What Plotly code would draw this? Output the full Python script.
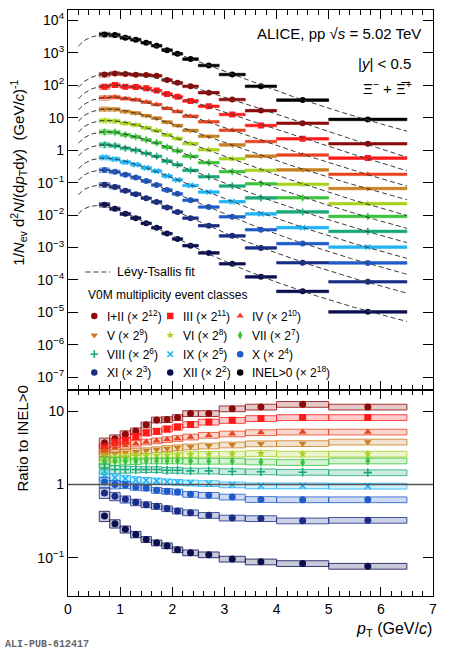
import numpy as np
import plotly.graph_objects as go

# ---------------- data ----------------
pt_lo = [0.6, 0.8, 1.0, 1.2, 1.4, 1.6, 1.8, 2.0, 2.2, 2.5, 2.9, 3.4, 4.0, 5.0]
pt_hi = [0.8, 1.0, 1.2, 1.4, 1.6, 1.8, 2.0, 2.2, 2.5, 2.9, 3.4, 4.0, 5.0, 6.5]
pt_center = [0.7, 0.9, 1.1, 1.3, 1.5, 1.7, 1.9, 2.1, 2.35, 2.7, 3.15, 3.7, 4.5, 5.75]

# INEL>0 spectrum as drawn (x 2^18)
inel_scaled = [3700, 3520, 2930, 2540, 2050, 1660, 1210, 935, 640, 408, 215, 93, 35, 8.9]
inel_exp = 18

# ratios to INEL>0 (lower panel)
ratio_I_II = [3.7, 4.2, 4.85, 5.35, 6.5, 7.6, 7.7, 8.2, 9.3, 9.3, 10.8, 11.4, 12.4, 11.4]
ratio_III = [3.1, 3.7, 3.95, 4.5, 5.06, 5.3, 5.7, 6.1, 6.6, 7.1, 7.5, 7.95, 8.2, 8.2]
ratio_IV = [2.85, 3.15, 3.4, 3.6, 3.8, 3.95, 4.1, 4.25, 4.45, 4.7, 4.9, 5.1, 5.2, 5.2]
ratio_V = [2.55, 2.65, 2.72, 2.8, 2.9, 2.99, 3.1, 3.18, 3.26, 3.36, 3.47, 3.6, 3.62, 3.8]
ratio_VI = [2.25, 2.3, 2.38, 2.43, 2.45, 2.48, 2.51, 2.53, 2.56, 2.58, 2.6, 2.65, 2.6, 2.6]
ratio_VII = [2.03, 2.08, 2.08, 2.08, 2.1, 2.1, 2.1, 2.1, 2.08, 2.08, 2.08, 2.03, 2.0, 2.1]
ratio_VIII = [1.64, 1.6, 1.6, 1.6, 1.6, 1.6, 1.56, 1.56, 1.53, 1.53, 1.5, 1.49, 1.47, 1.45]
ratio_IX = [1.33, 1.24, 1.2, 1.16, 1.14, 1.12, 1.09, 1.07, 1.05, 1.03, 0.99, 0.96, 0.96, 0.95]
ratio_X = [1.08, 1.0, 0.985, 0.924, 0.896, 0.832, 0.807, 0.79, 0.735, 0.712, 0.675, 0.625, 0.62, 0.62]
ratio_XI = [0.766, 0.689, 0.627, 0.57, 0.53, 0.503, 0.468, 0.435, 0.412, 0.379, 0.349, 0.343, 0.319, 0.325]
ratio_XII = [0.371, 0.292, 0.244, 0.208, 0.178, 0.16, 0.146, 0.129, 0.117, 0.110, 0.096, 0.088, 0.0835, 0.0767]

# relative systematic uncertainties (box half-heights)
sys_rel = [0.16, 0.13, 0.11, 0.10, 0.09, 0.09, 0.09, 0.09, 0.09, 0.09, 0.09, 0.09, 0.09, 0.09]

classes = ["I+II", "III", "IV", "V", "VI", "VII", "VIII", "IX", "X", "XI", "XII"]
scale_exp = [12, 11, 10, 9, 8, 7, 6, 5, 4, 3, 2]
ratios = [ratio_I_II, ratio_III, ratio_IV, ratio_V, ratio_VI, ratio_VII,
          ratio_VIII, ratio_IX, ratio_X, ratio_XI, ratio_XII]
colors = ["#8c0a0a", "#ff1a1a", "#e8431e", "#c87d1e", "#a6d21e", "#3cc43c",
          "#17a878", "#1eb4f5", "#1e5ac8", "#192d87", "#0a0f50"]
symbols = ["circle", "square", "triangle-up", "triangle-down", "star", "diamond-tall",
           "cross-thin", "x-thin", "circle", "circle", "circle"]

XI_MASS = 1.32171

# ---------------- geometry ----------------
W, H = 449, 650
ML, MR, MT, MB = 67.7, 16, 9.5, 54
PW = W - ML - MR
PH = H - MT - MB


def fx(p):
    return (p - ML) / PW


def fy(p):
    return (H - MB - p) / PH


split = fy(389.5)
FONT = "Liberation Sans, Arial, Helvetica, sans-serif"


def rgba(hexc, a):
    h = hexc.lstrip("#")
    return "rgba(%d,%d,%d,%.2f)" % (int(h[0:2], 16), int(h[2:4], 16), int(h[4:6], 16), a)


def box_paths(lo, hi, vals, rel):
    xs, ys = [], []
    for a, b, v, r in zip(lo, hi, vals, rel):
        y0, y1 = v * (1 - r), v * (1 + r)
        xs += [a, b, b, a, a, None]
        ys += [y0, y0, y1, y1, y0, None]
    return xs, ys


# Levy-Tsallis fit to the read points (grid search, log residuals)
n_grid = np.arange(3.0, 80.0, 0.5)
T_grid = np.arange(0.15, 0.9, 0.005)
ptc = np.array(pt_center)
mt = np.sqrt(ptc ** 2 + XI_MASS ** 2) - XI_MASS


def lt_shape(pt, n, T):
    mtk = np.sqrt(pt ** 2 + XI_MASS ** 2) - XI_MASS
    return pt * (1 + mtk / (n * T)) ** (-n)


NN, TT = np.meshgrid(n_grid, T_grid, indexing="ij")
logF = np.log(ptc)[None, None, :] - NN[..., None] * np.log1p(mt[None, None, :] / (NN[..., None] * TT[..., None]))


def fit_curve(vals, xcurve):
    ly = np.log(np.array(vals))
    res = ly[None, None, :] - logF
    c = res.mean(axis=2)
    sse = ((res - c[..., None]) ** 2).sum(axis=2)
    i, j = np.unravel_index(np.argmin(sse), sse.shape)
    return np.exp(c[i, j]) * lt_shape(xcurve, n_grid[i], T_grid[j])


x_curve = np.linspace(0.2, 6.5, 250)

fig = go.Figure()

inel_raw = np.array(inel_scaled) / 2 ** inel_exp
half_lo = [c - a for a, c in zip(pt_lo, pt_center)]
half_hi = [b - c for b, c in zip(pt_hi, pt_center)]

# -------- top panel: spectra --------
spectra = []
for r, e in zip(ratios, scale_exp):
    spectra.append([float(v) for v in inel_raw * np.array(r) * 2 ** e])
spectra.append(list(inel_scaled))
all_colors = colors + ["#000000"]
all_symbols = symbols + ["circle"]


def mk(sym, col, size):
    if sym.endswith("-thin"):
        return dict(symbol=sym, size=size - 1, color=col, line=dict(width=1.6, color=col))
    if sym == "star":
        return dict(symbol=sym, size=size - 0.5, color=col, line=dict(width=0, color=col))
    return dict(symbol=sym, size=size, color=col, line=dict(width=0, color=col))


for vals, col, sym in zip(spectra, all_colors, all_symbols):
    bx, by = box_paths(pt_lo, pt_hi, vals, sys_rel)
    fig.add_trace(go.Scatter(x=bx, y=by, mode="lines", line=dict(color=rgba(col, 0.75), width=0.8),
                             xaxis="x", yaxis="y", hoverinfo="skip", showlegend=False))
    fig.add_trace(go.Scatter(x=pt_center, y=vals, mode="markers", marker=mk(sym, col, 6),
                             error_x=dict(type="data", symmetric=False, array=half_hi, arrayminus=half_lo,
                                          thickness=2.6, width=0, color=col),
                             xaxis="x", yaxis="y", showlegend=False))

for vals in spectra:
    fig.add_trace(go.Scatter(x=x_curve, y=fit_curve(vals, x_curve), mode="lines",
                             line=dict(color="#3a3a3a", width=1, dash="5px,3px"),
                             xaxis="x", yaxis="y", hoverinfo="skip", showlegend=False))

# -------- bottom panel: ratios --------
for r, col, sym in zip(ratios, colors, symbols):
    bx, by = box_paths(pt_lo, pt_hi, r, sys_rel)
    fig.add_trace(go.Scatter(x=bx, y=by, mode="lines", fill="toself", fillcolor=rgba(col, 0.22),
                             line=dict(color=rgba(col, 0.8), width=1),
                             xaxis="x2", yaxis="y2", hoverinfo="skip", showlegend=False))
    fig.add_trace(go.Scatter(x=pt_center, y=r, mode="markers", marker=mk(sym, col, 7),
                             xaxis="x2", yaxis="y2", showlegend=False))

# -------- legend (drawn on a page-pixel overlay axis) --------
leg_cols_marker = [94, 170, 240]
leg_cols_text = [105, 181, 250]
leg_rows = [315.7, 335, 354, 372.3]
leg_names = classes + ["INEL>0"]
leg_exps = scale_exp + [inel_exp]
annotations = []
for k, (name, e, col, sym) in enumerate(zip(leg_names, leg_exps, all_colors, all_symbols)):
    row, cc = divmod(k, 3)
    fig.add_trace(go.Scatter(x=[leg_cols_marker[cc]], y=[leg_rows[row]], mode="markers", marker=mk(sym, col, 6.5),
                             xaxis="x3", yaxis="y3", cliponaxis=False, showlegend=False, hoverinfo="skip"))
    annotations.append(dict(x=leg_cols_text[cc], y=leg_rows[row], xref="x3", yref="y3",
                            text="%s (× 2<sup>%d</sup>)" % (name, e), showarrow=False,
                            xanchor="left", yanchor="middle", font=dict(size=12, family=FONT, color="black")))
fig.add_trace(go.Scatter(x=[85, 110], y=[271.7, 271.7], mode="lines",
                         line=dict(color="#3a3a3a", width=1.2, dash="5px,3px"),
                         xaxis="x3", yaxis="y3", cliponaxis=False, showlegend=False, hoverinfo="skip"))
annotations.append(dict(x=115, y=271.7, xref="x3", yref="y3", text="Lévy-Tsallis fit", showarrow=False,
                        xanchor="left", yanchor="middle", font=dict(size=12.5, family=FONT, color="black")))
annotations.append(dict(x=86, y=294.7, xref="x3", yref="y3", text="V0M multiplicity event classes",
                        showarrow=False, xanchor="left", yanchor="middle",
                        font=dict(size=12, family=FONT, color="black")))

# header texts
annotations += [
    dict(x=423, y=33.5, xref="x3", yref="y3", text="ALICE, pp √<i>s</i> = 5.02 TeV", showarrow=False,
         xanchor="right", yanchor="middle", font=dict(size=15, family=FONT, color="black")),
    dict(x=413, y=63.3, xref="x3", yref="y3", text="|<i>y</i>| < 0.5", showarrow=False,
         xanchor="right", yanchor="middle", font=dict(size=15, family=FONT, color="black")),
    dict(x=414, y=87, xref="x3", yref="y3", text="Ξ<sup>−</sup> + Ξ\u0305<sup>+</sup>", showarrow=False,
         xanchor="right", yanchor="middle", font=dict(size=15, family=FONT, color="black")),
    dict(x=fx(18), y=fy(172), xref="paper", yref="paper", textangle=-90,
         text="1/<i>N</i><sub>ev</sub> d<sup>2</sup><i>N</i>/(d<i>p</i><sub>T</sub>d<i>y</i>)  (GeV/<i>c</i>)<sup>-1</sup>",
         showarrow=False, xanchor="center", yanchor="middle", font=dict(size=15, family=FONT, color="black")),
    dict(x=fx(22), y=fy(438), xref="paper", yref="paper", textangle=-90, text="Ratio to INEL>0",
         showarrow=False, xanchor="center", yanchor="middle", font=dict(size=15, family=FONT, color="black")),
    dict(x=fx(434), y=fy(630), xref="paper", yref="paper", text="<i>p</i><sub>T</sub> (GeV/<i>c</i>)",
         showarrow=False, xanchor="right", yanchor="middle", font=dict(size=16, family=FONT, color="black")),
    dict(x=fx(3), y=fy(645), xref="paper", yref="paper", text="<b>ALI-PUB-612417</b>",
         showarrow=False, xanchor="left", yanchor="middle",
         font=dict(size=10, family="Liberation Mono, DejaVu Sans Mono, monospace", color="#666666")),
]

sup = lambda e: "10<sup>%s</sup>" % (str(e).replace("-", "−"))
top_tickvals = [10.0 ** e for e in range(-7, 5)]
top_ticktext = [("1" if e == 0 else "10" if e == 1 else sup(e)) for e in range(-7, 5)]
top_minor = [m * 10.0 ** e for e in range(-8, 5) for m in range(2, 10)]
bot_minor = [m * 10.0 ** e for e in range(-2, 2) for m in range(2, 10)]

axis_common = dict(showline=True, linecolor="black", linewidth=1.2, mirror="ticks", ticks="inside",
                   tickcolor="black", showgrid=False, zeroline=False, automargin=False,
                   tickfont=dict(size=14, family=FONT, color="black"))
minor_common = dict(showline=False, ticks="inside", tickcolor="black", ticklen=5, mirror="ticks",
                    showgrid=False, zeroline=False, showticklabels=False, automargin=False,
                    tickmode="array", type="log")

TOP_RANGE = [-7.38, 4.32]
BOT_RANGE = [-1.522, 1.293]

fig.update_layout(
    template="none",
    width=W, height=H, plot_bgcolor="rgba(0,0,0,0)", paper_bgcolor="white",
    margin=dict(l=ML, r=MR, t=MT, b=MB, pad=0),
    showlegend=False,
    xaxis=dict(domain=[0, 1], anchor="y", range=[0, 7], dtick=1, ticklen=9, showticklabels=False,
               minor=dict(ticks="inside", ticklen=5, dtick=0.2, tickcolor="black"), **axis_common),
    yaxis=dict(domain=[split, 1], anchor="x", type="log", range=TOP_RANGE,
               tickmode="array", tickvals=top_tickvals, ticktext=top_ticktext, ticklen=10, **axis_common),
    yaxis4=dict(overlaying="y", anchor="x", range=TOP_RANGE, tickvals=top_minor, **minor_common),
    xaxis2=dict(domain=[0, 1], anchor="y2", range=[0, 7], dtick=1, ticklen=9, matches="x",
                minor=dict(ticks="inside", ticklen=5, dtick=0.2, tickcolor="black"), **axis_common),
    yaxis2=dict(domain=[0, split], anchor="x2", type="log", range=BOT_RANGE,
                tickmode="array", tickvals=[0.1, 1, 10], ticktext=[sup(-1), "1", "10"], ticklen=10,
                **axis_common),
    yaxis5=dict(overlaying="y2", anchor="x2", range=BOT_RANGE, tickvals=bot_minor, **minor_common),
    xaxis3=dict(domain=[0, 1], anchor="y3", range=[ML, W - MR], visible=False, fixedrange=True),
    yaxis3=dict(domain=[0, 1], anchor="x3", range=[H - MB, MT], visible=False, fixedrange=True),
    annotations=annotations,
    shapes=[dict(type="line", xref="x2", yref="y2", x0=0, x1=7, y0=1, y1=1,
                 line=dict(color="#555555", width=1.5))],
)

fig.write_html("out.html", config={"displayModeBar": False},
               post_script="document.body.style.margin='0';document.body.style.overflow='hidden';")
